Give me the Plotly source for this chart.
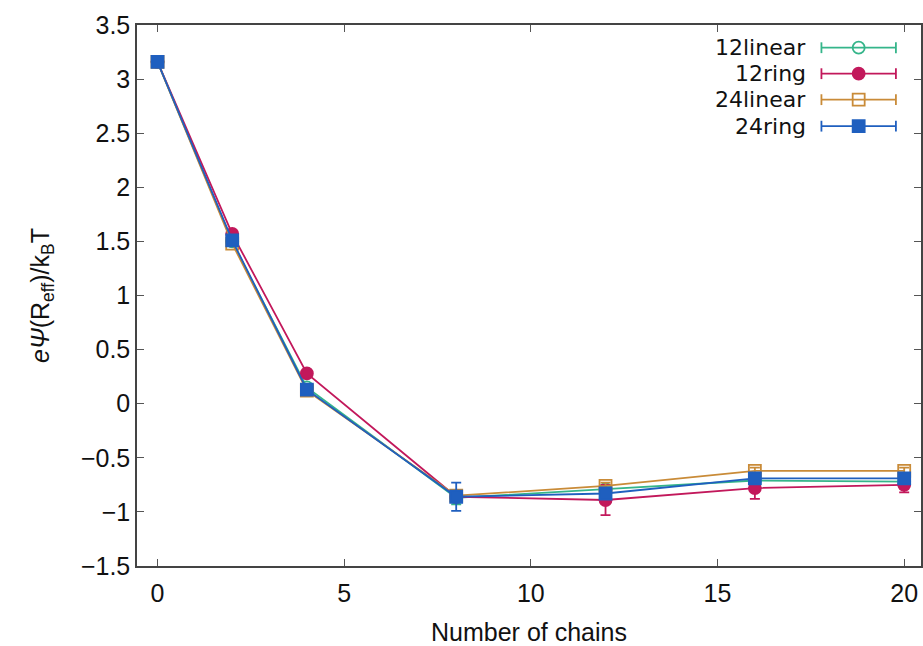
import plotly.graph_objects as go

x_chains = [0, 2, 4, 8, 12, 16, 20]
names = ["12linear", "12ring", "24linear", "24ring"]
y_12linear = [3.16, 1.50, 0.15, -0.87, -0.79, -0.71, -0.72]
y_12ring = [3.16, 1.57, 0.28, -0.86, -0.89, -0.78, -0.75]
y_24linear = [3.16, 1.48, 0.12, -0.85, -0.76, -0.62, -0.62]
y_24ring = [3.16, 1.51, 0.13, -0.86, -0.83, -0.69, -0.69]
e_12linear = [0.01, 0.02, 0.02, 0.06, 0.03, 0.03, 0.03]
e_12ring = [0.01, 0.02, 0.02, 0.05, 0.14, 0.10, 0.07]
e_24linear = [0.01, 0.02, 0.02, 0.05, 0.03, 0.03, 0.03]
e_24ring = [0.01, 0.02, 0.02, 0.13, 0.04, 0.04, 0.04]
x_ticks = [0, 5, 10, 15, 20]
y_ticks = [-1.5, -1, -0.5, 0, 0.5, 1, 1.5, 2, 2.5, 3, 3.5]
y_tick_text = ["\u22121.5", "\u22121", "\u22120.5", "0", "0.5", "1", "1.5", "2", "2.5", "3", "3.5"]

series = [
    (names[0], y_12linear, e_12linear, "#35b58a", "circle-open"),
    (names[1], y_12ring, e_12ring, "#c2185b", "circle"),
    (names[2], y_24linear, e_24linear, "#c98b38", "square-open"),
    (names[3], y_24ring, e_24ring, "#1f5fbf", "square"),
]

FONT = "Liberation Sans, Arial, Helvetica"
LEGFONT = "DejaVu Sans, Liberation Sans, Arial"

fig = go.Figure()
for name, ys, es, col, sym in series:
    fig.add_trace(go.Scatter(
        x=x_chains, y=ys, name=name, mode="lines+markers",
        line=dict(color=col, width=1.8),
        marker=dict(symbol=sym, size=12, color=col, line=dict(color=col, width=1.8)),
        error_y=dict(type="data", array=es, color=col, thickness=1.8, width=5),
        showlegend=False,
    ))

# gnuplot-style key: text on the left, sample (line + marker + error caps) on the right
leg_y = [0.958, 0.910, 0.862, 0.813]
for i, (name, ys, es, col, sym) in enumerate(series):
    fig.add_annotation(xref="paper", yref="paper", x=0.855, y=leg_y[i], text=name,
                       showarrow=False, xanchor="right", yanchor="middle", borderpad=0,
                       font=dict(family=LEGFONT, size=22, color="#111"))
    fig.add_shape(type="line", xref="paper", yref="paper", x0=0.873, x1=0.968,
                  y0=leg_y[i], y1=leg_y[i], line=dict(color=col, width=1.8))
    for xc in (0.873, 0.968):
        fig.add_shape(type="line", xref="paper", yref="paper", x0=xc, x1=xc,
                      y0=leg_y[i] - 0.01, y1=leg_y[i] + 0.01, line=dict(color=col, width=1.8))
    fig.add_trace(go.Scatter(x=[0.9205], y=[leg_y[i]], xaxis="x2", yaxis="y2",
                             mode="markers", showlegend=False, hoverinfo="skip",
                             marker=dict(symbol=sym, size=12, color=col, line=dict(color=col, width=1.8))))

fig.update_layout(
    width=923, height=646,
    margin=dict(l=137, r=0, t=25, b=80),
    paper_bgcolor="white", plot_bgcolor="white",
    font=dict(family=FONT, size=26, color="#111"),
    xaxis=dict(range=[-0.55, 20.45], tickvals=x_ticks, ticks="inside", ticklen=7,
               tickcolor="#555", showline=True, linecolor="#444", linewidth=1.5,
               mirror="ticks", showgrid=False, zeroline=False,
               tickfont=dict(family=FONT, size=25), ticklabelstandoff=4,
               title=dict(text="Number of chains", standoff=20,
                          font=dict(family=FONT, size=25))),
    yaxis=dict(range=[-1.5, 3.5], tickvals=y_ticks, ticktext=y_tick_text, ticks="inside",
               ticklen=7, tickcolor="#555", showline=True, linecolor="#444", linewidth=1.5,
               mirror="ticks", showgrid=False, zeroline=False,
               tickfont=dict(family=FONT, size=25),
               title=dict(text="<i>e\u03a8</i>(R<sub>eff</sub>)/k<sub>B</sub>T", standoff=24,
                          font=dict(family=FONT, size=25))),
    xaxis2=dict(range=[0, 1], overlaying="x", visible=False),
    yaxis2=dict(range=[0, 1], overlaying="y", visible=False),
)

fig.write_html("out.html")
